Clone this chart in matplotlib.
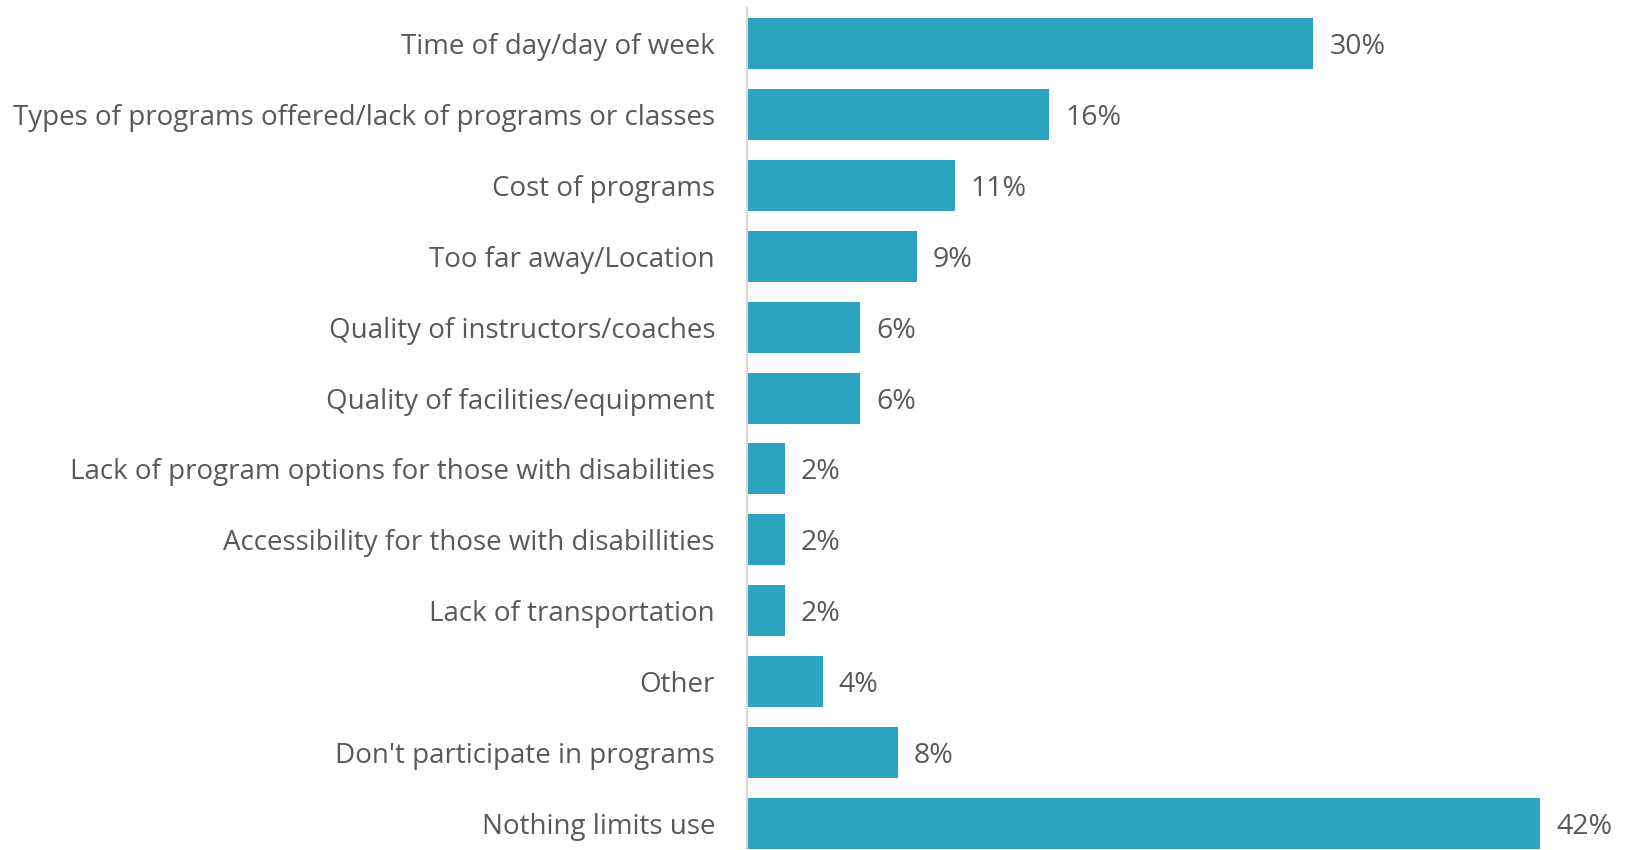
import matplotlib
matplotlib.use("Agg")
import matplotlib.pyplot as plt

categories = [
    "Time of day/day of week",
    "Types of programs offered/lack of programs or classes",
    "Cost of programs",
    "Too far away/Location",
    "Quality of instructors/coaches",
    "Quality of facilities/equipment",
    "Lack of program options for those with disabilities",
    "Accessibility for those with disabillities",
    "Lack of transportation",
    "Other",
    "Don't participate in programs",
    "Nothing limits use",
]
values = [30, 16, 11, 9, 6, 6, 2, 2, 2, 4, 8, 42]

bar_color = "#2CA3BF"
text_color = "#595959"

plt.rcParams['font.family'] = ['Open Sans', 'DejaVu Sans']

fig = plt.figure(figsize=(16.25, 8.5), dpi=100)
# axes placed in figure pixels: left edge at the axis line
ax = fig.add_axes([747 / 1625, -9 / 850, (1625 - 747) / 1625, 851 / 850])

y = list(range(len(categories)))
bars = ax.barh(y, values, height=0.72, color=bar_color)

for b, v in zip(bars, values):
    ax.annotate(f"{v}%", (b.get_width(), b.get_y() + b.get_height() / 2),
                xytext=(16, 0), textcoords="offset pixels",
                va="center_baseline", ha="left", fontsize=20.5, color=text_color)

ax.set_yticks(y)
ax.set_yticklabels(categories, fontsize=20, color=text_color)
ax.tick_params(axis="y", length=0, pad=23)
ax.set_ylim(len(categories) - 0.5, -0.5)
ax.set_xlim(0, 46.5)
ax.set_xticks([])

for s in ["top", "right", "bottom"]:
    ax.spines[s].set_visible(False)
ax.spines["left"].set_color("#D9D9D9")
ax.spines["left"].set_linewidth(1.5)

fig.savefig("out.png", dpi=100)
